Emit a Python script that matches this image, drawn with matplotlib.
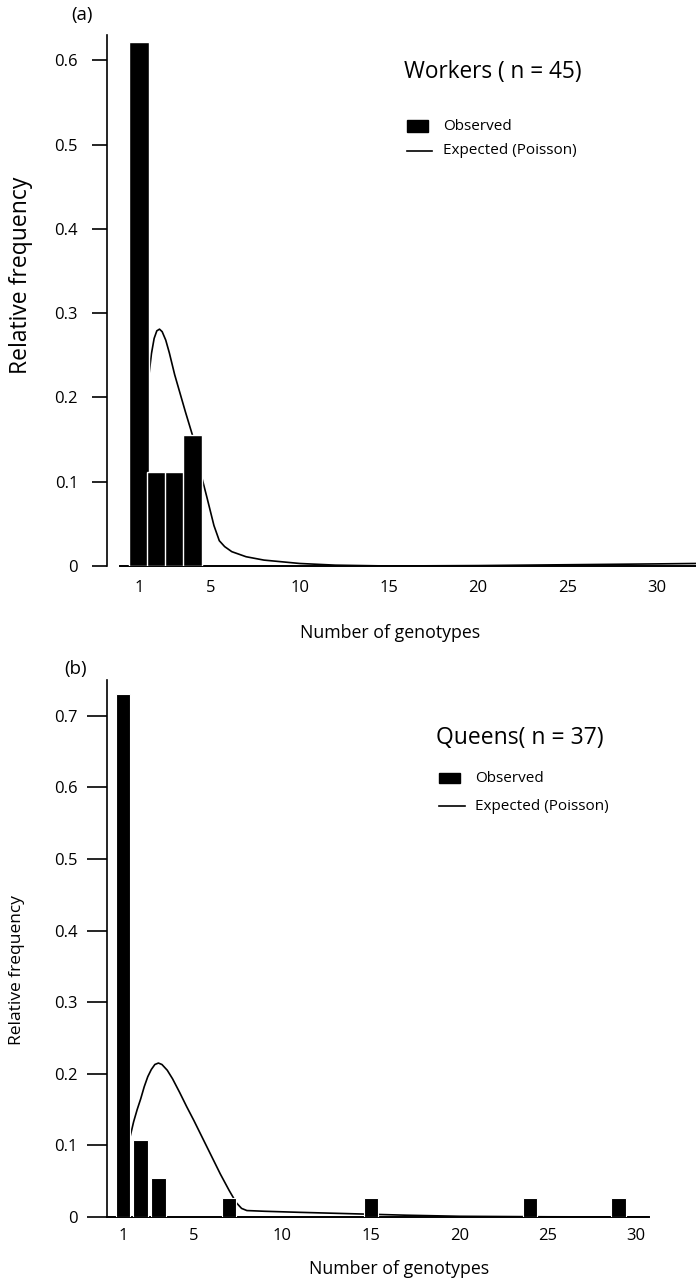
import matplotlib
matplotlib.use("Agg")
import matplotlib.pyplot as plt
from matplotlib.patches import Rectangle
from matplotlib.lines import Line2D

plt.rcParams['font.family'] = ['Open Sans', 'DejaVu Sans']

# ---------------- data ----------------
workers_genotypes = [1, 2, 3, 4]
workers_freq = [0.622, 0.111, 0.111, 0.156]
workers_exp_x = [1.45, 1.55, 1.7, 1.85, 2.0, 2.15, 2.3, 2.5, 2.7, 3.0, 3.3, 3.6, 4.0,
                 4.4, 4.8, 5.2, 5.5, 5.8, 6.2, 7.0, 8.0, 10.0, 12.0, 15.0, 20.0,
                 25.0, 30.0, 32.2]
workers_exp_y = [0.195, 0.225, 0.252, 0.270, 0.279, 0.281, 0.278, 0.268, 0.253, 0.227,
                 0.205, 0.183, 0.155, 0.115, 0.082, 0.048, 0.030, 0.023, 0.017, 0.011,
                 0.007, 0.003, 0.001, 0.0, 0.0005, 0.0015, 0.0025, 0.003]

queens_genotypes = [1, 2, 3, 7, 15, 24, 29]
queens_freq = [0.730, 0.108, 0.054, 0.027, 0.027, 0.027, 0.027]
queens_exp_x = [1.4, 1.6, 1.8, 2.0, 2.2, 2.4, 2.6, 2.8, 3.0, 3.2, 3.5, 3.8, 4.2, 4.6,
                5.0, 5.5, 6.0, 6.5, 7.0, 7.4, 7.7, 8.0, 9.0, 11.0, 14.0, 17.0, 20.0,
                25.0, 30.7]
queens_exp_y = [0.112, 0.133, 0.150, 0.165, 0.182, 0.196, 0.206, 0.213, 0.215, 0.213,
                0.205, 0.193, 0.174, 0.154, 0.135, 0.110, 0.085, 0.060, 0.037, 0.020,
                0.012, 0.009, 0.008, 0.0065, 0.0045, 0.0025, 0.001, 0.0003, 0.0]

x_ticks = [1, 5, 10, 15, 20, 25, 30]
workers_yticks = [0, 0.1, 0.2, 0.3, 0.4, 0.5, 0.6]
queens_yticks = [0, 0.1, 0.2, 0.3, 0.4, 0.5, 0.6, 0.7]

# ---------------- figure ----------------
W, H = 696, 1286
fig = plt.figure(figsize=(W / 100, H / 100), dpi=100)


def frac(x0, y_top, x1, y_bot):
    return [x0 / W, (H - y_bot) / H, (x1 - x0) / W, (y_bot - y_top) / H]


def style_axes(ax, xlim, ylim, bottom_bounds, ticklen, ypad, xpad, yticks):
    ax.set_xlim(*xlim)
    ax.set_ylim(*ylim)
    for s in ['top', 'right']:
        ax.spines[s].set_visible(False)
    ax.spines['left'].set_linewidth(1.2)
    ax.spines['bottom'].set_linewidth(1.4)
    ax.spines['bottom'].set_bounds(*bottom_bounds)
    ax.set_xticks(x_ticks)
    ax.set_xticklabels([str(t) for t in x_ticks])
    ax.set_yticks(yticks)
    ax.set_yticklabels(['0' if t == 0 else f'{t:g}' for t in yticks])
    ax.tick_params(axis='y', direction='out', length=ticklen, width=1.2,
                   pad=ypad, labelsize=12)
    ax.tick_params(axis='x', length=0, pad=xpad, labelsize=12)
    ax.patch.set_alpha(0)


# Panel (a)
ax_a = fig.add_axes(frac(107, 35, 696, 566))
ax_a.plot(workers_exp_x, workers_exp_y, color='black', lw=1.2, zorder=2,
          solid_capstyle='butt', solid_joinstyle='round')
ax_a.bar(workers_genotypes, workers_freq, width=1.08, color='black',
         edgecolor='white', linewidth=1.0, zorder=3)
style_axes(ax_a, (-0.79, 32.2), (0, 0.63), (-0.06, 32.2), 10.8, 10, 10,
           workers_yticks)

# Panel (b)
ax_b = fig.add_axes(frac(107, 680, 649, 1217))
ax_b.plot(queens_exp_x, queens_exp_y, color='black', lw=1.2, zorder=2,
          solid_capstyle='butt', solid_joinstyle='round')
ax_b.bar(queens_genotypes, queens_freq, width=0.82, color='black',
         edgecolor='white', linewidth=0.8, zorder=3)
style_axes(ax_b, (0.096, 30.72), (0, 0.75), (0.096, 30.72), 14.4, 7, 8,
           queens_yticks)

# ---------------- texts ----------------
def ftext(x, y, s, **kw):
    fig.text(x / W, 1 - y / H, s, **kw)

ftext(82, 15, '(a)', ha='center', va='center', fontsize=13.5)
ftext(76, 669, '(b)', ha='center', va='center', fontsize=13.5)

ftext(21, 275, 'Relative frequency', rotation=90, ha='center', va='center', fontsize=16.5)
ftext(17, 970, 'Relative frequency', rotation=90, ha='center', va='center', fontsize=12.5)

ftext(390, 633, 'Number of genotypes', ha='center', va='center', fontsize=12.8)
ftext(399, 1269, 'Number of genotypes', ha='center', va='center', fontsize=12.8)

# Legends
ftext(404, 72, 'Workers ( n = 45)', ha='left', va='center', fontsize=16.3)
fig.patches.append(Rectangle((407 / W, 1 - 132 / H), 21 / W, 12 / H,
                             transform=fig.transFigure, color='black'))
ftext(443, 126, 'Observed', ha='left', va='center', fontsize=11)
fig.lines.append(Line2D([407 / W, 432 / W], [1 - 151 / H, 1 - 151 / H],
                        transform=fig.transFigure, color='black', lw=1.2))
ftext(443, 151, 'Expected (Poisson)', ha='left', va='center', fontsize=11)

ftext(436, 738, 'Queens( n = 37)', ha='left', va='center', fontsize=16.5)
fig.patches.append(Rectangle((439 / W, 1 - 783 / H), 21 / W, 10 / H,
                             transform=fig.transFigure, color='black'))
ftext(475, 778, 'Observed', ha='left', va='center', fontsize=11)
fig.lines.append(Line2D([439 / W, 465 / W], [1 - 806 / H, 1 - 806 / H],
                        transform=fig.transFigure, color='black', lw=1.2))
ftext(475, 806, 'Expected (Poisson)', ha='left', va='center', fontsize=11)

fig.savefig('out.png', dpi=100)
